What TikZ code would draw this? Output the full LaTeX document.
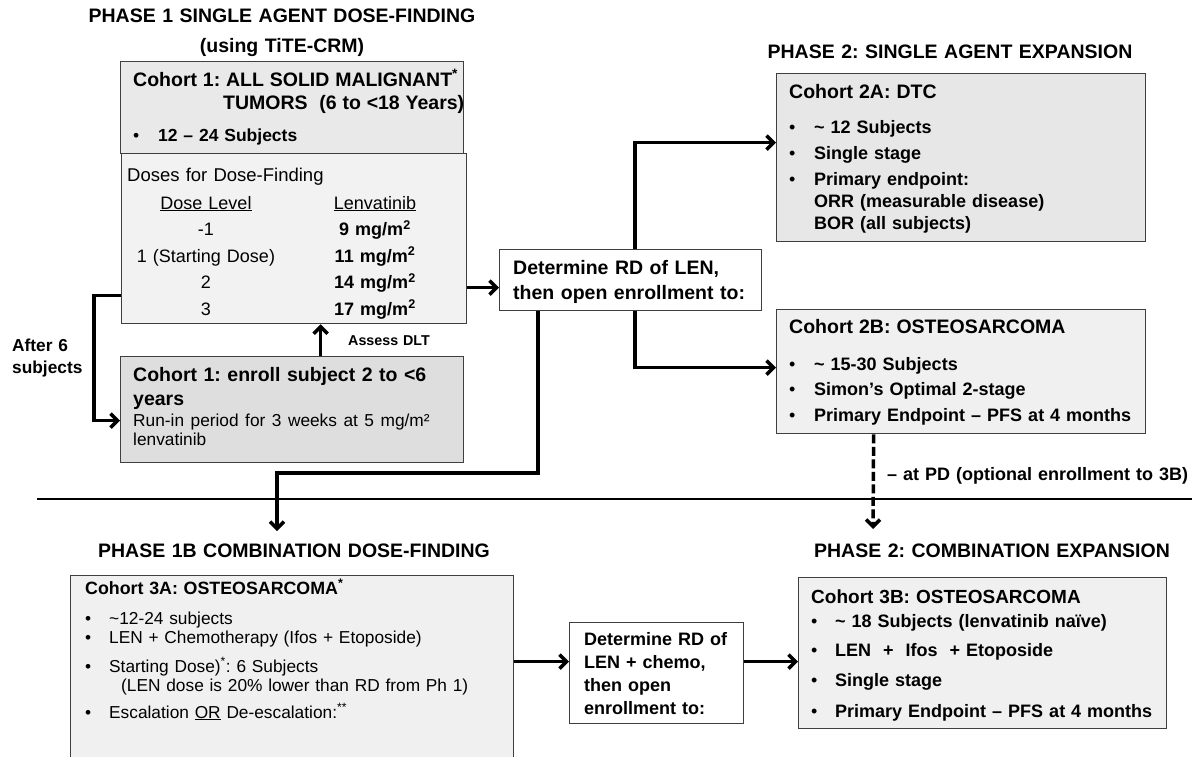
\documentclass[tikz,border=0pt]{standalone}
\usepackage{fontspec}
\setmainfont{Liberation Sans}
\usetikzlibrary{arrows.meta,positioning}
\definecolor{boxline}{HTML}{3F3F3F}
\definecolor{fillone}{HTML}{E9E9E9}
\definecolor{filldose}{HTML}{F2F2F2}
\definecolor{fillrun}{HTML}{DEDEDE}
\definecolor{filltwoa}{HTML}{E7E7E7}
\definecolor{fillpale}{HTML}{F0F0F0}
\newcommand{\blt}[1][25pt]{\makebox[#1][l]{\mdseries\textbullet}}
\frenchspacing

\begin{document}
\begin{tikzpicture}[x=1pt, y=-1pt,
    box/.style={draw=boxline, line width=1.3pt, anchor=north west, inner sep=0pt},
    txt/.style={anchor=base west, inner sep=0pt, align=left, text width=#1},
    txt/.default=340pt,
    col/.style={anchor=base, inner sep=0pt, align=center, text width=160pt, font=\fontsize{18}{26.5}\selectfont},
    ttl/.style={anchor=base, inner sep=0pt, align=center, text width=460pt, font=\bfseries\fontsize{19.5}{30}\selectfont},
    flow/.style={line width=3.5pt, -{Straight Barb[length=7pt,width=14pt]}},
    dflow/.style={flow, dash pattern=on 9pt off 3.5pt},
    rule/.style={line width=1.8pt}]

  \useasboundingbox (0,0) rectangle (1192,756);

  % phase 1: single agent dose-finding
  \node[ttl] (ph1) at (282,22) {PHASE 1 SINGLE AGENT DOSE-FINDING\\(using TiTE-CRM)};
  \node[box, fill=filldose, minimum width=345pt, minimum height=170pt] (doses) at (121,153) {};
  \node[box, fill=fillone, minimum width=343pt, minimum height=92pt] (c1) at (120,61) {};
  \node[txt, font=\bfseries\fontsize{17.5}{23}\selectfont] (c1t) at (133,86)
    {{\fontsize{19.5}{23}\selectfont Cohort 1: ALL SOLID MALIGNANT\textsuperscript{*}\\\hspace*{90pt}TUMORS\ \ (6 to <18 Years)}\\[9pt]\blt 12 – 24 Subjects};
  \node[txt, font=\fontsize{18.5}{22}\selectfont] (dt) at (127,181) {Doses for Dose-Finding};
  \node[col] (lvl) at (206,209) {\underline{Dose Level}\\-1\\1 (Starting Dose)\\2\\3};
  \node[col] (lenv) at (375,209) {\underline{Lenvatinib}\\\textbf{9 mg/m\textsuperscript{2}}\\\textbf{11 mg/m\textsuperscript{2}}\\\textbf{14 mg/m\textsuperscript{2}}\\\textbf{17 mg/m\textsuperscript{2}}};

  \node[box, fill=fillrun, minimum width=343pt, minimum height=106pt] (low1) at (120,356) {};
  \node[txt, font=\bfseries\fontsize{19.5}{24}\selectfont] (low1t) at (133,381)
    {Cohort 1: enroll subject 2 to <6\\years\\[-3pt]{\mdseries\fontsize{17.3}{24}\selectfont Run-in period for 3 weeks at 5 mg/m²\\[-5pt]lenvatinib}};
  \node[txt=80pt, font=\bfseries\fontsize{17.3}{22}\selectfont] (after) at (12,351) {After 6\\subjects};
  \node[txt=100pt, font=\bfseries\fontsize{14.3}{17}\selectfont] (dlt) at (348,345) {Assess DLT};

  \node[box, fill=white, minimum width=262pt, minimum height=61pt] (rd) at (499,249) {};
  \node[txt=250pt, font=\bfseries\fontsize{19.5}{25}\selectfont] (rdt) at (513,274) {Determine RD of LEN,\\then open enrollment to:};

  % phase 2: single agent expansion
  \node[ttl] (ph2a) at (950,58) {PHASE 2: SINGLE AGENT EXPANSION};
  \node[box, fill=filltwoa, minimum width=369pt, minimum height=168pt] (c2a) at (776,73) {};
  \node[txt=350pt, font=\bfseries\fontsize{18}{22}\selectfont] (c2at) at (789,98)
    {{\fontsize{19.5}{22}\selectfont Cohort 2A: DTC}\\[13pt]\blt\textasciitilde{} 12 Subjects\\[4pt]\blt Single stage\\[4pt]\blt Primary endpoint:\\\hspace*{25pt}ORR (measurable disease)\\\hspace*{25pt}BOR (all subjects)};
  \node[box, fill=fillpale, minimum width=369pt, minimum height=124pt] (c2b) at (776,309) {};
  \node[txt=350pt, font=\bfseries\fontsize{18}{25.5}\selectfont] (c2bt) at (789,333)
    {{\fontsize{19.5}{22}\selectfont Cohort 2B: OSTEOSARCOMA}\\[11.5pt]\blt\textasciitilde{} 15-30 Subjects\\\blt Simon’s Optimal 2-stage\\\blt Primary Endpoint – PFS at 4 months};
  \node[txt=320pt, font=\bfseries\fontsize{18}{22}\selectfont] (pd) at (887,480) {– at PD (optional enrollment to 3B)};

  \draw[rule] (37,499) -- (1192,499);

  % phase 1b and phase 2 combination
  \node[ttl] (ph1b) at (294,557) {PHASE 1B COMBINATION DOSE-FINDING};
  \node[ttl] (ph2b) at (992,557) {PHASE 2: COMBINATION EXPANSION};
  \node[box, fill=fillpale, minimum width=443pt, minimum height=200pt] (c3a) at (70,575) {};
  \node[txt=420pt, font=\fontsize{17.3}{19}\selectfont] (c3at) at (85,594)
    {{\bfseries\fontsize{17.8}{19}\selectfont Cohort 3A: OSTEOSARCOMA\textsuperscript{*}}\\[11pt]\blt[24pt]\textasciitilde 12-24 subjects\\\blt[24pt]LEN + Chemotherapy (Ifos + Etoposide)\\[10pt]\blt[24pt]Starting Dose)\textsuperscript{*}: 6 Subjects\\\hspace*{36pt}(LEN dose is 20\% lower than RD from Ph 1)\\[8pt]\blt[24pt]Escalation \underline{OR} De-escalation:\textsuperscript{**}};
  \node[box, fill=white, minimum width=174pt, minimum height=101pt] (rd2) at (569,622) {};
  \node[txt=165pt, font=\bfseries\fontsize{18}{23}\selectfont] (rd2t) at (584,645) {Determine RD of\\LEN + chemo,\\then open\\enrollment to:};
  \node[box, fill=fillpale, minimum width=368pt, minimum height=151pt] (c3b) at (798,577) {};
  \node[txt=350pt, font=\bfseries\fontsize{18}{24}\selectfont] (c3bt) at (811,603)
    {{\fontsize{19}{24}\selectfont Cohort 3B: OSTEOSARCOMA}\\\blt[24pt]\textasciitilde{} 18 Subjects (lenvatinib naïve)\\[5pt]\blt[24pt]LEN\ \ +\ \ Ifos\ \ + Etoposide\\[6pt]\blt[24pt]Single stage\\[7pt]\blt[24pt]Primary Endpoint – PFS at 4 months};

  % connectors
  \coordinate (toRD) at ([yshift=-49pt]doses.east);
  \coordinate (turn1b) at (277,473);
  \coordinate (into1b) at (277,531);
  \coordinate (into2c) at (873,529);
  \coordinate (mid3) at ([yshift=11.5pt]rd2.west);
  \draw[flow] (toRD) -- (toRD -| rd.west);
  \draw[flow] ([yshift=-57pt]doses.west) -- ++(-27,0) |- ([yshift=-11pt]low1.west);
  \draw[flow] ([xshift=28.5pt]low1.north) -- ([xshift=28.5pt]low1.north |- doses.south);
  \draw[flow] ([xshift=136pt]rd.north west) |- ([yshift=15pt]c2a.west);
  \draw[flow] ([xshift=136pt]rd.south west) |- ([yshift=4pt]c2b.west);
  \draw[flow] ([xshift=39pt]rd.south west) |- (turn1b) -- (into1b);
  \draw[dflow] ([xshift=-87.5pt]c2b.south) -- (into2c);
  \draw[flow] (mid3 -| c3a.east) -- (mid3);
  \draw[flow] (mid3 -| rd2.east) -- (mid3 -| c3b.west);
\end{tikzpicture}
\end{document}
